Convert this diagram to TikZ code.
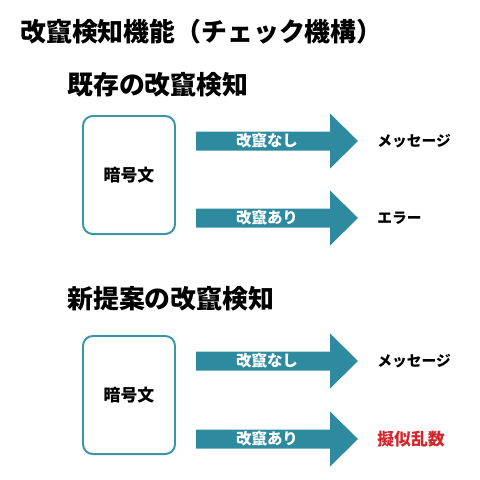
\documentclass[tikz,border=0pt]{standalone}
\usepackage{fontspec}
\setmainfont{Noto Sans CJK JP}
\usepackage{xcolor}
\usepackage{tikz}
\usetikzlibrary{positioning}
\definecolor{sea}{HTML}{2E8A9E}
\definecolor{seaedge}{HTML}{3A95A9}
\definecolor{fake}{HTML}{D0262B}

\begin{document}
\begin{tikzpicture}[x=0.025cm,y=-0.025cm,
  ttl/.style={font=\fontsize{18.4}{20}\selectfont\bfseries,anchor=west,inner sep=0pt},
  ct/.style={draw=seaedge,line width=1.4pt,rounded corners=7pt,fill=white,minimum width=2.3cm,minimum height=2.95cm,font=\fontsize{12}{14}\selectfont\bfseries},
  lbl/.style={font=\fontsize{11}{13}\selectfont\bfseries,text=white,inner sep=0pt},
  res/.style={font=\fontsize{10.5}{12}\selectfont\bfseries,anchor=west,inner sep=0pt}
]
  \useasboundingbox (0,0) rectangle (480,480);
  \node[ttl] (title) at (20,32)  {改竄検知機能（チェック機構）};
  \node[ttl] (old)   at (67,85)  {既存の改竄検知};
  \node[ttl] (new)   at (67,299) {新提案の改竄検知};
  \node[ct] (ct1) at (129,175) {暗号文};
  \node[ct] (ct2) at (129,395) {暗号文};
  % tamper check arrows
  \foreach \y/\lab/\res/\col/\fs in {141/改竄なし/メッセージ/black/10.5, 218/改竄あり/エラー/black/10.5,
                               361/改竄なし/メッセージ/black/10.5, 439/改竄あり/擬似乱数/fake/12}{
    \fill[sea] (196,\y-9.5) -- (330,\y-9.5) -- (330,\y-27.5) -- (358,\y)
      -- (330,\y+27.5) -- (330,\y+9.5) -- (196,\y+9.5) -- cycle;
    \node[lbl] (a\y) at (267,\y) {\lab};
    \node[res,text=\col,font=\fontsize{\fs}{12}\selectfont\bfseries] (r\y) at (377,\y) {\res};
  }
\end{tikzpicture}
\end{document}
